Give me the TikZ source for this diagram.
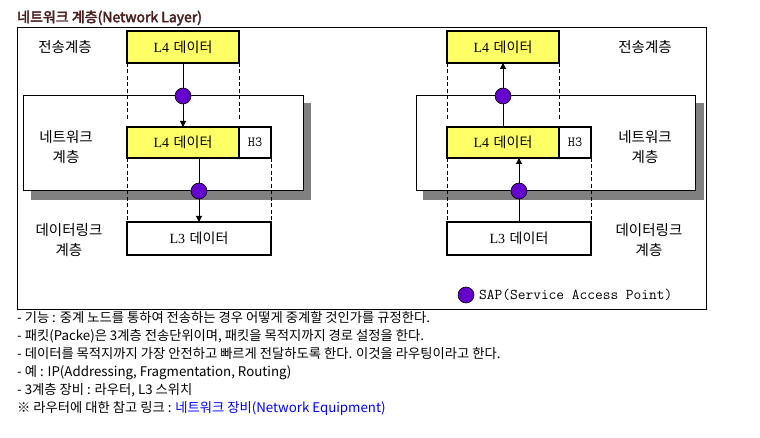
\documentclass[tikz,border=0pt]{standalone}
\usepackage{fontspec}
\usetikzlibrary{arrows.meta}
\newfontfamily\kr{Noto Sans CJK KR}
\newfontfamily\krb[FakeBold=3]{Noto Sans CJK KR}
\newfontfamily\serifl{Liberation Serif}
\definecolor{sapc}{HTML}{6600CC}
\definecolor{ylw}{HTML}{FFFF66}
\definecolor{shad}{HTML}{808080}
\definecolor{ttl}{HTML}{4A1F1F}
\definecolor{lnk}{HTML}{0000FF}
\tikzset{
  databox/.style={draw, line width=2pt, inner sep=0pt, outer sep=0pt, font=\fontsize{14}{16}\selectfont},
  ybox/.style={databox, fill=ylw},
  wbox/.style={databox, fill=white},
  hbox/.style={wbox, font=\ttfamily\fontsize{14}{16}\selectfont},
  panel/.style={draw, line width=1pt, fill=white},
  shadowbox/.style={fill=shad},
  sap/.style={circle, draw=black, line width=0.6pt, fill=sapc, minimum size=16pt, inner sep=0pt},
  arr/.style={line width=1pt, -{Triangle[width=6pt,length=6pt]}},
  dsh/.style={line width=0.8pt, dash pattern=on 4pt off 2.5pt},
  lbl/.style={font=\kr\fontsize{14.5}{20}\selectfont, align=center, inner sep=0pt},
}
\begin{document}
\begin{tikzpicture}[x=1pt,y=-1pt]
\useasboundingbox (0,0) rectangle (760,438);
% title
\node[anchor=west, inner sep=0pt, text=ttl, font=\krb\fontsize{14}{15}\selectfont] (title) at (17,18) {네트워크 계층(Network Layer)};
% outer frame
\draw[line width=1pt] (17,28) rectangle (706,309);

% ===== left =====
\fill[shadowbox] (31,103) rectangle (311,200);
\draw[panel] (23,96) rectangle (303,191);
\node[ybox, minimum width=112pt, minimum height=32pt] (t1) at (183,47) {{\serifl L4} {\kr 데이터}};
\node[ybox, minimum width=112pt, minimum height=31pt] (m1) at (183,142.5) {{\serifl L4} {\kr 데이터}};
\node[hbox, minimum width=32pt, minimum height=31pt] (h1) at (255,142.5) {H3};
\node[wbox, minimum width=144pt, minimum height=33pt] (l1) at (199,238.5) {{\serifl L3} {\kr 데이터}};
\draw[dsh] (t1.south west) -- ++(0,56);
\draw[dsh] (t1.south east) -- ++(0,56);
\draw[dsh] (m1.south west) -- (l1.north west);
\draw[dsh] (h1.south east) -- (l1.north east);
\draw[arr] (t1.south) -- (m1.north);
\draw[arr] (m1.south -| l1.north) -- (l1.north);
\node[sap] (s1) at (183,96) {};
\node[sap] (s2) at (199,191) {};
\node[lbl] (a1) at (65,47) {전송계층};
\node[lbl] (b1) at (66,147) {네트워크\\계층};
\node[lbl] (c1) at (69,240) {데이터링크\\계층};

% ===== right =====
\fill[shadowbox] (423,103) rectangle (704,200);
\draw[panel] (416,96) rectangle (695,191);
\node[ybox, minimum width=112pt, minimum height=32pt] (t2) at (503,47) {{\serifl L4} {\kr 데이터}};
\node[ybox, minimum width=112pt, minimum height=31pt] (m2) at (503,142.5) {{\serifl L4} {\kr 데이터}};
\node[hbox, minimum width=32pt, minimum height=31pt] (h2) at (575,142.5) {H3};
\node[wbox, minimum width=144pt, minimum height=33pt] (l2) at (519,238.5) {{\serifl L3} {\kr 데이터}};
\draw[dsh] (t2.south west) -- ++(0,56);
\draw[dsh] (t2.south east) -- ++(0,56);
\draw[dsh] (m2.south west) -- (l2.north west);
\draw[dsh] (h2.south east) -- (l2.north east);
\draw[arr] (m2.north) -- (t2.south);
\draw[arr] (l2.north) -- (l2.north |- m2.south);
\node[sap] (s3) at (503,96) {};
\node[sap] (s4) at (519,191) {};
\node[lbl] (a2) at (645,47) {전송계층};
\node[lbl] (b2) at (645,147) {네트워크\\계층};
\node[lbl] (c2) at (649,240) {데이터링크\\계층};

% legend
\node[sap] (leg) at (466,295) {};
\node[anchor=west, inner sep=0pt, font=\ttfamily\fontsize{15}{17}\selectfont] (legt) at (479,295) {SAP(Service Access Point)};

% notes
\node[anchor=north west, inner sep=0pt, align=left, font=\kr\fontsize{13.3}{18}\selectfont] (notes) at (17,311.5) {%
- 기능 : 중계 노드를 통하여 전송하는 경우 어떻게 중계할 것인가를 규정한다.\\
- 패킷(Packe)은 3계층 전송단위이며, 패킷을 목적지까지 경로 설정을 한다.\\
- 데이터를 목적지까지 가장 안전하고 빠르게 전달하도록 한다. 이것을 라우팅이라고 한다.\\
- 예 : IP(Addressing, Fragmentation, Routing)\\
- 3계층 장비 : 라우터, L3 스위치\\
※ 라우터에 대한 참고 링크 : \textcolor{lnk}{네트워크 장비(Network Equipment)}};
\end{tikzpicture}
\end{document}
